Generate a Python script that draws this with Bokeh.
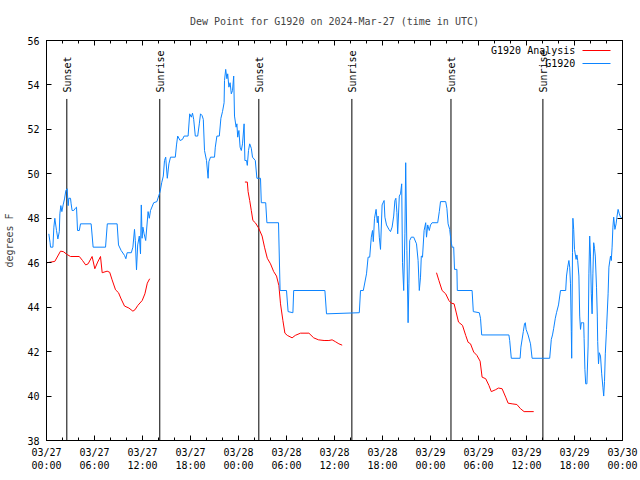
import math
from bokeh.plotting import figure
from bokeh.models import Range1d, FixedTicker, LinearAxis
from bokeh.embed import file_html
from bokeh.resources import INLINE
from bokeh.core.properties import value

# ---- data (hours since 2024-03-27 00:00 UTC) ----
obs_hours = [0.29, 0.45, 0.5, 0.8, 0.92, 1.04, 1.25, 1.42, 1.6, 1.67, 1.79, 1.92, 2.08, 2.25, 2.42, 2.58, 2.71, 2.79,
             3.0, 3.08, 3.2, 3.4, 3.6, 3.75, 3.88, 4.1, 4.25, 5.58, 5.83, 7.38, 7.6, 8.83, 9.0, 9.33, 9.75, 9.92,
             10.08, 10.6, 10.8, 11.0, 11.1, 11.25, 11.4, 11.6, 11.75, 11.85, 11.95, 12.05, 12.2, 12.4, 12.7, 12.85,
             13.0, 13.4, 13.8, 14.2, 14.4, 14.6, 14.75, 14.9, 15.1, 15.3, 15.5, 16.1, 16.25, 16.4, 16.7, 17.0, 17.2,
             17.7, 17.9, 18.1, 18.25, 18.4, 18.6, 18.9, 19.1, 19.25, 19.45, 19.6, 19.75, 20.0, 20.2, 20.3, 20.5,
             21.0, 21.1, 21.3, 21.6, 21.8, 22.0, 22.2, 22.25, 22.4, 22.55, 22.65, 22.8, 22.95, 23.1, 23.25, 23.4,
             23.5, 23.7, 23.8, 23.9, 24.05, 24.2, 24.35, 24.5, 24.7, 24.8, 25.0, 25.1, 25.25, 25.4, 25.6, 25.75,
             26.1, 26.3, 26.75, 26.85, 27.4, 27.55, 29.0, 29.2, 30.0, 30.2, 30.8, 30.9, 34.8, 35.0, 39.1, 39.25,
             39.6, 40.0, 40.2, 40.4, 40.6, 40.75, 40.85, 41.0, 41.2, 41.35, 41.45, 41.6, 41.75, 41.95, 42.2, 42.3,
             42.5, 42.8, 43.0, 43.2, 43.4, 43.55, 43.67, 43.8, 43.9, 44.1, 44.25, 44.4, 44.5, 44.65, 44.8, 44.9,
             45.05, 45.2, 45.3, 45.4, 45.6, 45.9, 46.25, 46.45, 46.6, 46.75, 46.85, 47.0, 47.2, 47.4, 47.5, 47.65,
             47.85, 48.0, 48.2, 48.9, 49.1, 49.25, 49.9, 50.05, 50.2, 50.4, 50.55, 50.7, 50.9, 51.0, 51.3, 51.35,
             53.2, 53.35, 54.1, 54.25, 54.4, 57.8, 57.9, 58.1, 59.2, 59.3, 59.6, 59.75, 59.85, 59.95, 60.2, 60.5,
             60.7, 62.9, 63.1, 63.25, 63.4, 63.6, 63.75, 64.0, 64.25, 64.9, 65.0, 65.15, 65.3, 65.4, 65.5, 65.6,
             65.65, 65.75, 65.8, 65.9, 66.0, 66.2, 66.3, 66.4, 66.55, 66.65, 66.75, 66.85, 67.0, 67.15, 67.2, 67.3,
             67.4, 67.55, 67.7, 67.8, 67.9, 68.0, 68.1, 68.2, 68.3, 68.4, 68.5, 68.6, 68.75, 68.85, 68.9, 69.0,
             69.1, 69.25, 69.4, 69.55, 69.65, 69.75, 69.85, 70.0, 70.2, 70.3, 70.5, 70.6, 70.7, 70.8, 70.9, 71.05,
             71.2, 71.3, 71.45, 71.6, 71.75, 71.95]
obs_dewpt = [47.3, 46.9, 46.7, 46.7, 47.6, 48.0, 47.45, 47.07, 47.4, 48.2, 48.57, 48.3, 48.6, 48.87, 49.25, 49.33, 48.57, 48.9,
             48.9, 48.65, 48.35, 48.35, 48.45, 48.5, 47.45, 47.45, 47.75, 47.75, 46.7, 46.7, 47.75, 47.75, 46.8, 46.55, 46.33, 46.18,
             46.45, 46.45, 46.7, 47.5, 47.0, 45.68, 46.8, 47.2, 46.4, 48.6, 47.1, 47.6, 47.3, 47.0, 48.3, 48.0,
             48.35, 48.7, 48.75, 49.2, 49.6, 49.9, 50.6, 50.75, 49.8, 50.45, 50.75, 50.75, 51.3, 51.7, 51.5, 51.55, 51.7,
             51.7, 52.7, 52.55, 52.73, 52.45, 51.7, 51.7, 52.25, 52.7, 52.62, 52.45, 51.05, 50.6, 49.8, 50.55, 50.75,
             50.75, 51.2, 51.7, 51.7, 52.5, 52.8, 53.2, 54.2, 54.7, 54.28, 54.5, 53.9, 54.1, 53.6, 53.75, 54.4,
             52.6, 52.1, 52.25, 51.65, 51.95, 51.2, 51.05, 51.35, 52.25, 50.6, 50.6, 50.38, 51.05, 51.35, 51.15, 50.75,
             50.6, 49.8, 49.8, 48.7, 48.7, 47.8, 47.8, 44.75, 44.75, 43.8, 43.75, 44.75, 44.75, 43.7, 43.75, 44.75,
             44.75, 45.5, 46.25, 46.25, 47.15, 47.45, 46.95, 48.0, 48.4, 47.8, 48.1, 47.15, 46.6, 48.6, 48.8, 48.05,
             47.7, 47.5, 47.4, 47.6, 48.1, 48.8, 48.9, 48.25, 47.3, 49.0, 49.1, 49.55, 46.0, 44.75, 47.3, 50.5,
             46.55, 43.3, 45.05, 47.0, 47.15, 47.15, 46.85, 46.1, 44.75, 45.35, 46.3, 46.25, 47.45, 47.8, 47.15, 47.7,
             47.45, 47.7, 47.8, 47.8, 48.3, 48.75, 48.75, 48.45, 47.75, 47.5, 47.0, 46.7, 46.7, 45.7, 45.7, 44.75,
             44.75, 43.8, 43.75, 43.5, 42.75, 42.75, 42.5, 41.7, 41.7, 42.2, 42.9, 43.25, 43.3, 43.0, 42.75, 42.35,
             41.7, 41.7, 42.55, 42.75, 43.05, 43.5, 43.75, 44.1, 44.75, 44.75, 45.4, 45.8, 46.1, 45.8, 45.05, 42.9,
             41.7, 46.45, 48.0, 47.5, 46.6, 46.15, 46.35, 46.1, 45.4, 43.6, 43.0, 43.3, 43.3, 43.3, 42.6, 41.2,
             40.55, 40.55, 42.25, 45.5, 47.2, 46.3, 44.6, 43.7, 45.5, 46.9, 46.65, 46.3, 44.9, 43.6, 42.45, 41.45,
             41.95, 41.8, 41.0, 40.4, 40.0, 40.65, 41.9, 43.0, 44.6, 45.8, 46.3, 46.1, 46.7, 47.6, 48.05, 47.5,
             47.75, 48.05, 48.4, 48.2, 48.05, 48.0]

nan = float("nan")
ana_hours = [0.08, 1.04, 1.75, 2.1, 2.58, 3.0, 4.1, 4.5, 4.9, 5.2, 5.7, 6.04, 6.4, 6.75, 6.96, 7.58, 7.9, 8.2, 8.63,
             9.0, 9.33, 9.75, 10.3, 10.8, 11.05, 11.42, 11.96, 12.3, 12.6, 12.9,
             nan,
             24.8, 25.1, 25.2, 25.4, 25.6, 25.8, 26.1, 26.5, 26.95, 27.25, 27.6, 28.0, 28.4, 28.75, 29.05, 29.25,
             29.55, 29.8, 30.1, 30.7, 31.1, 31.75, 32.8, 33.4, 34.0, 34.7, 35.3, 35.7, 36.1, 36.55, 36.96,
             nan,
             48.75, 49.05, 49.45, 49.9, 50.3, 50.6, 50.95, 51.2, 51.5, 52.0, 52.4, 52.7, 53.0, 53.4, 53.8, 54.2,
             54.45, 54.9, 55.3, 55.6, 56.1, 56.5, 56.95, 57.4, 57.7, 58.2, 58.8, 59.25, 59.7, 60.9]
ana_dewpt = [46.0, 46.06, 46.52, 46.5, 46.37, 46.28, 46.28, 46.1, 45.9, 45.95, 46.28, 45.73, 46.03, 46.28, 45.55, 45.62,
             45.57, 45.23, 44.78, 44.65, 44.37, 44.05, 43.96, 43.82, 43.88, 44.08, 44.3, 44.6, 45.08, 45.28,
             nan,
             49.63, 49.63, 49.2, 48.8, 48.35, 47.9, 47.8, 47.57, 47.2, 46.7, 46.2, 45.95, 45.6, 45.4, 44.97, 44.15,
             43.4, 42.83, 42.73, 42.62, 42.73, 42.83, 42.83, 42.62, 42.53, 42.5, 42.5, 42.53, 42.45, 42.35, 42.29,
             nan,
             45.55, 45.2, 44.75, 44.6, 44.3, 44.18, 44.15, 43.78, 43.33, 43.18, 42.73, 42.42, 42.35, 41.98, 41.83,
             41.57, 40.85, 40.78, 40.48, 40.2, 40.28, 40.36, 40.33, 39.95, 39.68, 39.65, 39.62, 39.43, 39.3, 39.3]

event_hours = [2.54, 14.16, 26.54, 38.17, 50.56, 62.05]
event_names = ["Sunset", "Sunrise", "Sunset", "Sunrise", "Sunset", "Sunrise"]

series_names = ["G1920 Analysis", "G1920"]

x_tick_hours = [0, 6, 12, 18, 24, 30, 36, 42, 48, 54, 60, 66, 72]
x_tick_labels = ["03/27\n00:00", "03/27\n06:00", "03/27\n12:00", "03/27\n18:00",
                 "03/28\n00:00", "03/28\n06:00", "03/28\n12:00", "03/28\n18:00",
                 "03/29\n00:00", "03/29\n06:00", "03/29\n12:00", "03/29\n18:00", "03/30\n00:00"]
y_ticks = [38, 40, 42, 44, 46, 48, 50, 52, 54, 56]

FONT = "DejaVu Sans Mono"
FS = "10px"
BLUE = "#0c84ff"
RED = "#ff0000"

p = figure(width=640, height=480, x_range=Range1d(0, 72), y_range=Range1d(38, 56),
           output_backend="svg", toolbar_location=None,
           min_border_left=46, min_border_right=18, min_border_top=40, min_border_bottom=40,
           title="Dew Point for G1920 on 2024-Mar-27 (time in UTC)")
p.title.align = "center"
p.title.text_font = FONT
p.title.text_font_size = FS
p.title.text_font_style = "normal"
p.title.standoff = 27
p.grid.visible = False
p.outline_line_color = "black"
p.background_fill_color = "white"
p.border_fill_color = "white"

minor_x = list(range(0, 73, 2))
xt = FixedTicker(ticks=x_tick_hours, minor_ticks=minor_x)
yt = FixedTicker(ticks=y_ticks, minor_ticks=[])

def style_axis(ax, labels=True):
    ax.axis_line_color = "black"
    ax.major_tick_line_color = "black"
    ax.minor_tick_line_color = "black"
    ax.major_tick_in = 5
    ax.major_tick_out = 0
    ax.minor_tick_in = 3
    ax.minor_tick_out = 0
    ax.major_label_text_font = FONT
    if labels:
        ax.major_label_text_color = "black"
        ax.major_label_text_font_size = FS
    else:
        ax.major_label_text_color = None
        ax.major_label_text_font_size = "1px"
        ax.major_label_standoff = 0

xa = p.xaxis[0]
xa.ticker = xt
xa.major_label_overrides = {h: lab for h, lab in zip(x_tick_hours, x_tick_labels)}
style_axis(xa)
xa.major_label_standoff = 6

ya = p.yaxis[0]
ya.ticker = yt
style_axis(ya)
ya.major_label_standoff = 7
ya.axis_label = "degrees F"
ya.axis_label_text_font = FONT
ya.axis_label_text_font_size = FS
ya.axis_label_text_font_style = "normal"
ya.axis_label_standoff = 9

top = LinearAxis(ticker=xt)
style_axis(top, labels=False)
p.add_layout(top, "above")
right = LinearAxis(ticker=yt)
style_axis(right, labels=False)
p.add_layout(right, "right")

# sunrise / sunset markers
p.segment(x0=event_hours, y0=[38] * len(event_hours), x1=event_hours, y1=[53.37] * len(event_hours),
          line_color="black", line_width=1)
p.text(x=event_hours, y=[53.66] * len(event_hours), text=event_names, angle=math.pi / 2,
       text_align="left", text_baseline="middle", x_offset=1,
       text_font=value(FONT), text_font_size=FS, text_color="black")

r_red = p.line(ana_hours, ana_dewpt, line_color=RED, line_width=1)
r_blue = p.line(obs_hours, obs_dewpt, line_color=BLUE, line_width=1)

# gnuplot-style key: text right-aligned, line sample to its right (layout positions)
key_y = [55.55, 54.965]
key_colors = [RED, BLUE]
p.text(x=[66.1, 66.1], y=key_y, text=series_names, text_align="right", text_baseline="middle",
       text_font=value(FONT), text_font_size=FS, text_color="black")
p.segment(x0=[67.0, 67.0], y0=key_y, x1=[70.5, 70.5], y1=key_y, line_color=key_colors, line_width=1)

open("out.html", "w").write(file_html(p, INLINE))
